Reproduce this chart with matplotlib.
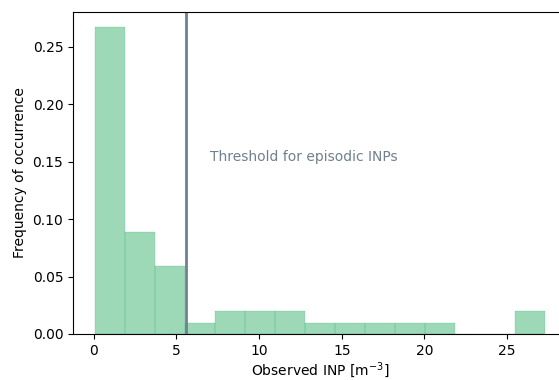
import numpy as np
import matplotlib
matplotlib.use("Agg")
import matplotlib.pyplot as plt

# histogram bins (observed INP, m^-3) and frequency of occurrence per bin
bin_edges = np.linspace(0.1, 27.3, 16)
freq = [0.267, 0.089, 0.0594, 0.0099, 0.0198, 0.0198, 0.0198, 0.0099,
        0.0099, 0.0099, 0.0099, 0.0099, 0.0, 0.0, 0.0198]
threshold = 5.58
threshold_label = "Threshold for episodic INPs"

centers = (bin_edges[:-1] + bin_edges[1:]) / 2

fig = plt.figure(figsize=(5.59, 3.8), dpi=100)
ax = fig.add_axes([0.1306, 0.1211, 0.8848, 0.8474])

ax.hist(centers, bins=bin_edges, weights=freq, color="mediumseagreen", alpha=0.5,
        edgecolor="mediumseagreen", linewidth=0.3)
ax.axvline(threshold, color="slategray", lw=2)
ax.text(7.0, 0.154, threshold_label, color="slategray", fontsize=10, va="center")

ax.set_xlabel("Observed INP [m$^{-3}$]", labelpad=1.5)
ax.set_ylabel("Frequency of occurrence")
ax.set_xticks([0, 5, 10, 15, 20, 25])
ax.set_yticks([0, 0.05, 0.10, 0.15, 0.20, 0.25])
ax.yaxis.set_major_formatter(matplotlib.ticker.FormatStrFormatter("%.2f"))

plt.savefig("out.png", dpi=100)
